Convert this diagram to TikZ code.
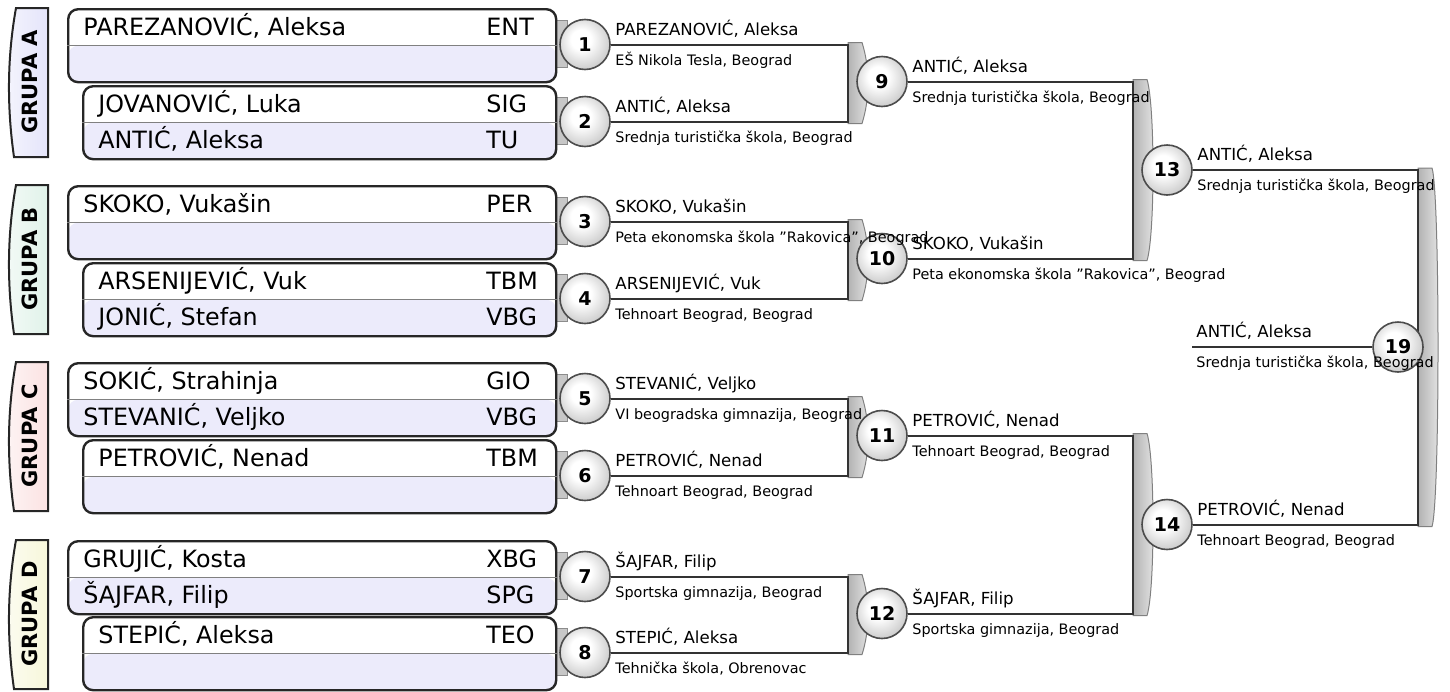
\documentclass[tikz,border=0pt]{standalone}
\usepackage{fontspec}
\setmainfont{DejaVu Sans}
\usetikzlibrary{calc,backgrounds}

\definecolor{lav}{HTML}{ECEBFB}
\definecolor{grpA}{HTML}{E4E4FA}
\definecolor{grpB}{HTML}{E0F2E9}
\definecolor{grpC}{HTML}{FBE2E2}
\definecolor{grpD}{HTML}{F7F7DA}

\pgfdeclareradialshading{ballshade}{\pgfpoint{-5bp}{6bp}}{color(0bp)=(white); color(10bp)=(white); color(28bp)=(black!20); color(42bp)=(black!35); color(50bp)=(black!45)}

% box with two players: name, x, y, player 1, club 1, player 2, club 2
\newcommand{\playerbox}[7]{%
  \node[pbox,minimum width={(555-#2)*0.5pt}] (#1) at (#2,#3) {};
  \draw[divider] (#1.west) -- (#1.east);
  \node[pname] (#1-n1) at (#2+16,#3+27) {#4};
  \node[pname] (#1-c1) at (486,#3+27) {#5};
  \node[pname] (#1-n2) at (#2+16,#3+63.5) {#6};
  \node[pname] (#1-c2) at (486,#3+63.5) {#7};
}
% winner and school next to a match
\newcommand{\winlabel}[3]{%
  \node[wname] (w#1) at ($(m#1)+(30,-9.5)$) {#2};
  \node[wschool] (s#1) at ($(m#1)+(30,20.5)$) {#3};
}

\begin{document}
\begin{tikzpicture}[x=0.5pt,y=-0.5pt,
    pbox/.style={draw=black!85,line width=1.2pt,rounded corners=5pt,anchor=north west,
      minimum height=36.5pt,inner sep=0pt,
      path picture={\fill[lav] (path picture bounding box.west) rectangle (path picture bounding box.south east);}},
    divider/.style={draw=black!50,line width=0.5pt},
    pname/.style={anchor=base west,inner sep=0pt,font=\fontsize{11.9}{14}\selectfont},
    ball/.style={circle,minimum size=25pt,inner sep=0pt,draw=black!70,line width=0.8pt,
      shade,shading=ballshade,font=\fontsize{9.5}{10}\selectfont\bfseries},
    wire/.style={draw=black!80,line width=1pt},
    conn/.style={fill=black!22,draw=black!45,line width=0.5pt},
    brk/.style={left color=black!30,right color=black!10,draw=black!50,line width=0.5pt},
    wname/.style={anchor=base west,inner sep=0pt,font=\fontsize{8.3}{10}\selectfont},
    wschool/.style={anchor=base west,inner sep=0pt,font=\fontsize{7.2}{9}\selectfont},
    grpshape/.style={draw=black!85,line width=1pt},
    grplabel/.style={rotate=90,inner sep=0pt,font=\fontsize{10.5}{12}\selectfont\bfseries}]
  \useasboundingbox (0,0) rectangle (1450,691);

  % groups
  \foreach \t/\g in {8/A,185/B,362/C,540/D}{
    \draw[grpshape,left color=grp\g!40,right color=grp\g] (48,\t) -- (16,\t)
      .. controls (7,\t+50) and (7,\t+100) .. (14,\t+149) -- (48,\t+149) -- cycle;
    \node[grplabel] (g\g) at (30,\t+74) {GRUPA \g};
  }

  \playerbox{b1}{67}{8}{PAREZANOVIĆ, Aleksa}{ENT}{}{}
  \playerbox{b2}{82}{85}{JOVANOVIĆ, Luka}{SIG}{ANTIĆ, Aleksa}{TU}
  \playerbox{b3}{67}{185}{SKOKO, Vukašin}{PER}{}{}
  \playerbox{b4}{82}{262}{ARSENIJEVIĆ, Vuk}{TBM}{JONIĆ, Stefan}{VBG}
  \playerbox{b5}{67}{362}{SOKIĆ, Strahinja}{GIO}{STEVANIĆ, Veljko}{VBG}
  \playerbox{b6}{82}{439}{PETROVIĆ, Nenad}{TBM}{}{}
  \playerbox{b7}{67}{540}{GRUJIĆ, Kosta}{XBG}{ŠAJFAR, Filip}{SPG}
  \playerbox{b8}{82}{616}{STEPIĆ, Aleksa}{TEO}{}{}

  % matches
  \foreach \n/\x/\y in {1/585/44.5,2/585/121.5,3/585/221.5,4/585/298.5,
      5/585/398.5,6/585/475.5,7/585/576.5,8/585/652.5,
      9/882/81.5,10/882/258.5,11/882/435.5,12/882/613.5,
      13/1167/170,14/1167/524.5,19/1398/347}
    \node[ball] (m\n) at (\x,\y) {\n};

  \coordinate (j9) at (848,81.5);
  \coordinate (j10) at (848,258.5);
  \coordinate (j11) at (848,435.5);
  \coordinate (j12) at (848,613.5);
  \coordinate (j13) at (1133,170);
  \coordinate (j14) at (1133,524.5);
  \coordinate (j19) at (1418,347);
  \coordinate (s19) at (1192,347);

  \begin{scope}[on background layer]
    \foreach \i in {1,...,8}
      \filldraw[conn] ($(m\i)+(-30,-24)$) rectangle ($(m\i)+(-18,23)$);
    \foreach \a/\b/\j in {1/2/9,3/4/10,5/6/11,7/8/12,9/10/13,11/12/14,13/14/19}{
      \draw[brk] ($(j\j |- m\a)+(0,-2)$) -- ++(14,0) .. controls +(8,25) and +(8,-25)
        .. ($(j\j |- m\b)+(14,2)$) -- ++(-14,0) -- cycle;
      \draw[wire] (m\a.east) -| (j\j) |- (m\b.east);
    }
    \draw[wire] (s19) -- (m19.west);
  \end{scope}

  \winlabel{1}{PAREZANOVIĆ, Aleksa}{EŠ Nikola Tesla, Beograd}
  \winlabel{2}{ANTIĆ, Aleksa}{Srednja turistička škola, Beograd}
  \winlabel{3}{SKOKO, Vukašin}{Peta ekonomska škola ”Rakovica”, Beograd}
  \winlabel{4}{ARSENIJEVIĆ, Vuk}{Tehnoart Beograd, Beograd}
  \winlabel{5}{STEVANIĆ, Veljko}{VI beogradska gimnazija, Beograd}
  \winlabel{6}{PETROVIĆ, Nenad}{Tehnoart Beograd, Beograd}
  \winlabel{7}{ŠAJFAR, Filip}{Sportska gimnazija, Beograd}
  \winlabel{8}{STEPIĆ, Aleksa}{Tehnička škola, Obrenovac}
  \winlabel{9}{ANTIĆ, Aleksa}{Srednja turistička škola, Beograd}
  \winlabel{10}{SKOKO, Vukašin}{Peta ekonomska škola ”Rakovica”, Beograd}
  \winlabel{11}{PETROVIĆ, Nenad}{Tehnoart Beograd, Beograd}
  \winlabel{12}{ŠAJFAR, Filip}{Sportska gimnazija, Beograd}
  \winlabel{13}{ANTIĆ, Aleksa}{Srednja turistička škola, Beograd}
  \winlabel{14}{PETROVIĆ, Nenad}{Tehnoart Beograd, Beograd}
  \node[wname] (w19) at ($(s19)+(4,-9.5)$) {ANTIĆ, Aleksa};
  \node[wschool] (s19t) at ($(s19)+(4,20.5)$) {Srednja turistička škola, Beograd};
\end{tikzpicture}
\end{document}
